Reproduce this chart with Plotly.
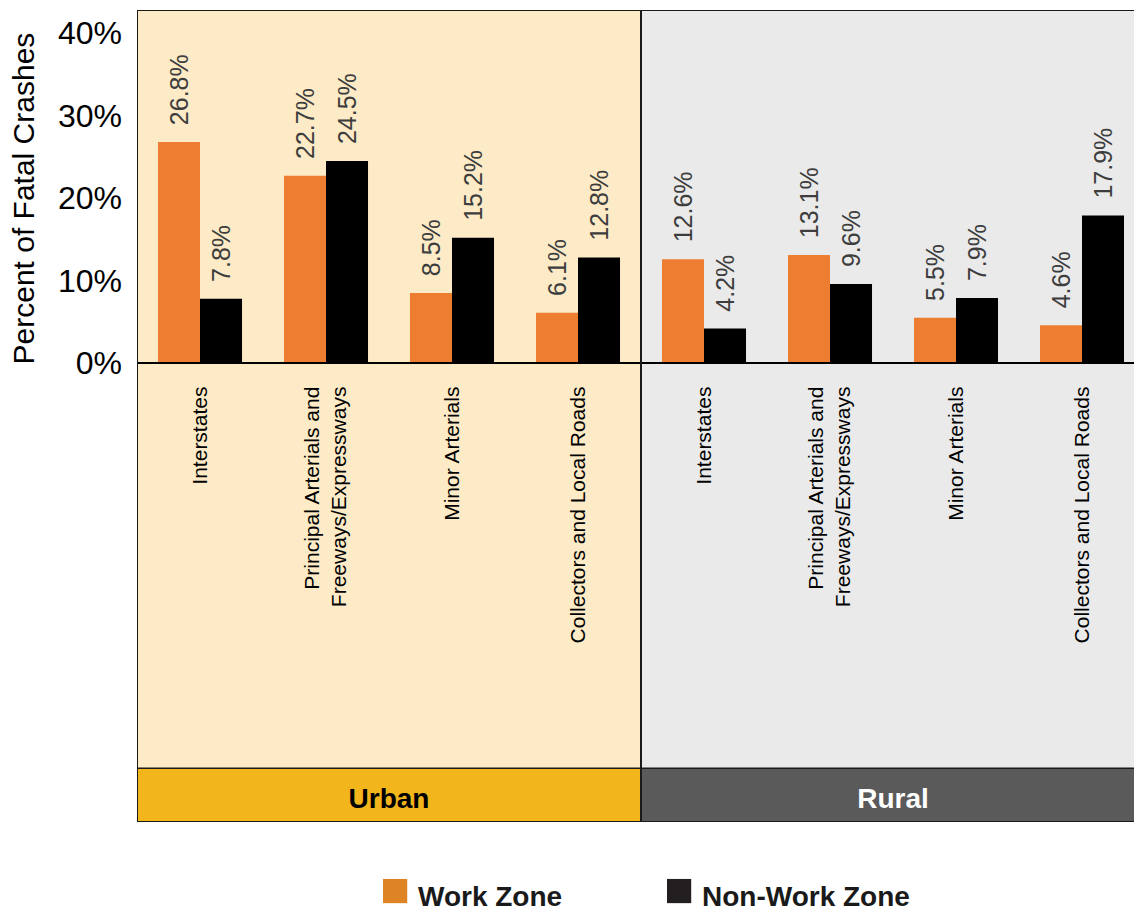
import plotly.graph_objects as go

# ---- data ----
categories = [
    "Interstates",
    "Principal Arterials and<br>Freeways/Expressways",
    "Minor Arterials",
    "Collectors and Local Roads",
    "Interstates",
    "Principal Arterials and<br>Freeways/Expressways",
    "Minor Arterials",
    "Collectors and Local Roads",
]
areas = ["Urban", "Rural"]
work_zone = [26.8, 22.7, 8.5, 6.1, 12.6, 13.1, 5.5, 4.6]
non_work_zone = [7.8, 24.5, 15.2, 12.8, 4.2, 9.6, 7.9, 17.9]
y_ticks = [0, 10, 20, 30, 40]
series_names = ["Work Zone", "Non-Work Zone"]

# ---- style ----
FONT = "Liberation Sans, Arial, Helvetica, sans-serif"
ORANGE = "#ED7D31"
BLACK = "#000000"
URBAN_BG = "#FCEBC6"
RURAL_BG = "#EAEAEA"
URBAN_BAND = "#F2B51C"
RURAL_BAND = "#5A5A5A"

Y_MIN, Y_MAX = -55.6, 42.8
BAND_TOP = -49.1
n = len(categories)
half = n // 2
x_idx = list(range(n))
x_lo, x_hi = -0.5, n - 0.5

fig = go.Figure()
for vals, name, col in [(work_zone, series_names[0], ORANGE),
                        (non_work_zone, series_names[1], BLACK)]:
    fig.add_trace(go.Bar(
        x=x_idx, y=vals, name=name, marker=dict(color=col, line=dict(width=0)),
        texttemplate="\u00a0\u00a0%{y:.1f}%", textposition="outside", textangle=-90,
        textfont=dict(family=FONT, size=25, color="#3d3d3d"),
        constraintext="none", cliponaxis=False, showlegend=False,
    ))

shapes = []
# panel backgrounds
shapes.append(dict(type="rect", xref="x", yref="y", x0=x_lo, x1=half - 0.5, y0=BAND_TOP, y1=Y_MAX,
                   fillcolor=URBAN_BG, line=dict(width=0), layer="below"))
shapes.append(dict(type="rect", xref="x", yref="y", x0=half - 0.5, x1=x_hi, y0=BAND_TOP, y1=Y_MAX,
                   fillcolor=RURAL_BG, line=dict(width=0), layer="below"))
# bottom bands
for i, (area, fc, tc) in enumerate([(areas[0], URBAN_BAND, "black"), (areas[1], RURAL_BAND, "white")]):
    shapes.append(dict(type="rect", xref="x", yref="y",
                       x0=x_lo + i * half, x1=x_lo + (i + 1) * half, y0=Y_MIN, y1=BAND_TOP,
                       fillcolor=fc, line=dict(width=0), layer="below",
                       label=dict(text=area, textposition="middle center",
                                  font=dict(family=FONT, size=28, color=tc, weight="bold"))))
# frame lines
LINE = dict(color="#1a1a1a", width=2)
shapes += [
    dict(type="line", xref="paper", yref="y", x0=0, x1=1, y0=Y_MAX, y1=Y_MAX, line=LINE),
    dict(type="line", xref="paper", yref="y", x0=0, x1=1, y0=Y_MIN, y1=Y_MIN, line=LINE),
    dict(type="line", xref="paper", yref="y", x0=0, x1=1, y0=BAND_TOP, y1=BAND_TOP, line=dict(color="#1a1a1a", width=1.5)),
    dict(type="line", xref="x", yref="y", x0=x_lo, x1=x_lo, y0=Y_MIN, y1=Y_MAX, line=LINE),
    dict(type="line", xref="x", yref="y", x0=half - 0.5, x1=half - 0.5, y0=Y_MIN, y1=Y_MAX, line=LINE),
]

annotations = [
    dict(text="Percent of Fatal Crashes", xref="paper", yref="y", x=-0.114, y=(y_ticks[0] + y_ticks[-1]) / 2,
         xanchor="center", yanchor="middle", textangle=-90, showarrow=False,
         font=dict(family=FONT, size=30, color="black")),
]
legend_items = [(series_names[0], "#DF8424", 0.335), (series_names[1], "#231F20", 0.652)]
for name, col, xp in legend_items:
    annotations.append(dict(
        text=f'<span style="color:{col};font-size:50px">\u25A0</span>\u00a0{name}',
        xref="paper", yref="paper", x=xp, y=-0.083, xanchor="center", yanchor="middle",
        showarrow=False, font=dict(family=FONT, size=28, color="#1a1a1a", weight="bold")))

zero_pos = (0 - Y_MIN) / (Y_MAX - Y_MIN)

fig.update_layout(
    width=1134, height=916,
    margin=dict(l=137, r=0, t=10, b=94),
    paper_bgcolor="white", plot_bgcolor="white",
    barmode="group", bargap=0.333, bargroupgap=0,
    shapes=shapes, annotations=annotations,
    xaxis=dict(range=[x_lo, x_lo + 997 / 126], tickvals=x_idx, ticktext=categories,
               tickangle=-90, anchor="free", position=zero_pos,
               showline=True, linecolor="black", linewidth=2,
               showgrid=False, zeroline=False, ticks="", ticklabelstandoff=14,
               tickfont=dict(family=FONT, size=21, color="black"), automargin=False),
    yaxis=dict(range=[Y_MIN, Y_MAX], tickvals=y_ticks, ticktext=[f"{t}%" for t in y_ticks],
               showgrid=False, zeroline=False, showline=False, ticks="",
               ticklabelstandoff=14,
               tickfont=dict(family=FONT, size=32, color="black"), automargin=False),
)

fig.write_html("out.html", config={"displayModeBar": False},
               post_script="document.body.style.margin='0';document.body.style.overflow='hidden';")
